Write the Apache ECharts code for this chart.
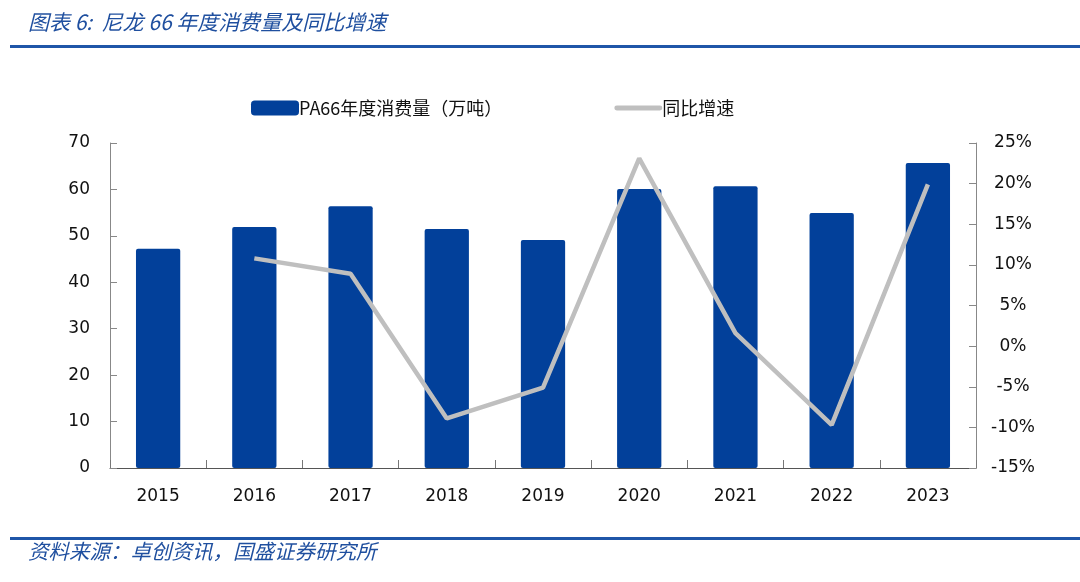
<!DOCTYPE html>
<html><head><meta charset="utf-8">
<script src="https://cdn.jsdelivr.net/npm/echarts@6/dist/echarts.min.js"></script>
<style>html,body{margin:0;padding:0;background:#fff;}#c{width:1080px;height:582px;}</style>
</head><body><div id="c"></div>
<script>
const categories = ['2015','2016','2017','2018','2019','2020','2021','2022','2023'];
const consumption = [47.2, 51.9, 56.4, 51.5, 49.1, 60.1, 60.7, 54.9, 65.7];
const growth = [null, 10.8, 8.9, -8.9, -5.1, 23.1, 1.6, -9.7, 19.9];
const leftTicks = {min: 0, max: 70, interval: 10};
const rightTicks = {min: -15, max: 25, interval: 5};
const titleText = '图表 6:  尼龙 66 年度消费量及同比增速';
const sourceText = '资料来源：卓创资讯，国盛证券研究所';
const barName = 'PA66年度消费量（万吨）';
const lineName = '同比增速';

const chart = echarts.init(document.getElementById('c'), null, {renderer: 'canvas'});
const blue = '#1f4f9f';
const font = '"DejaVu Sans", Verdana, sans-serif';
chart.setOption({
  animation: false,
  backgroundColor: '#fff',
  graphic: [
    {type: 'text', left: 28, top: 12, style: {text: titleText, fill: blue, font: 'italic 21px "Noto Sans CJK SC", sans-serif'}},
    {type: 'rect', shape: {x: 10, y: 45, width: 1070, height: 3}, style: {fill: '#1f56a8'}},
    {type: 'rect', shape: {x: 10, y: 537, width: 1070, height: 3}, style: {fill: '#1f56a8'}},
    {type: 'text', left: 28, top: 541, style: {text: sourceText, fill: blue, font: 'italic 20.5px "Noto Sans CJK SC", sans-serif'}}
  ],
  legend: {
    top: 94, left: 246, itemGap: 112, itemWidth: 48, itemHeight: 15,
    textStyle: {fontSize: 18, color: '#111', fontFamily: '"Noto Sans CJK SC", sans-serif', padding: [0,0,0,-5]},
    data: [
      {name: barName, icon: 'roundRect'},
      {name: lineName, icon: 'path://M2,0 L46,0 A2.5,2.5 0 0 1 46,5 L2,5 A2.5,2.5 0 0 1 2,0 Z', itemStyle: {color: '#bfbfbf'}}
    ]
  },
  grid: {left: 110, right: 104, top: 143, bottom: 114, containLabel: false},
  xAxis: {
    type: 'category', data: categories,
    axisLine: {lineStyle: {color: '#555', width: 1}},
    axisTick: {show: true, inside: true, length: 8, lineStyle: {color: '#777'}},
    axisLabel: {fontSize: 17, color: '#111', fontFamily: font, margin: 20}
  },
  yAxis: [
    {type: 'value', min: leftTicks.min, max: leftTicks.max, interval: leftTicks.interval,
     splitLine: {show: false},
     axisLine: {show: true, lineStyle: {color: '#888'}},
     axisTick: {show: true, inside: true, length: 7, lineStyle: {color: '#888'}},
     axisLabel: {fontSize: 17, color: '#111', fontFamily: font, margin: 20}},
    {type: 'value', min: rightTicks.min, max: rightTicks.max, interval: rightTicks.interval,
     position: 'right',
     splitLine: {show: false},
     axisLine: {show: true, lineStyle: {color: '#888'}},
     axisTick: {show: true, inside: true, length: 7, lineStyle: {color: '#888'}},
     axisLabel: {fontSize: 17, color: '#111', fontFamily: font, margin: 37, align: 'center', formatter: v => v + '%'}}
  ],
  series: [
    {name: barName, type: 'bar', data: consumption, yAxisIndex: 0, barWidth: '46%',
     itemStyle: {color: '#02409a', borderRadius: 2}},
    {name: lineName, type: 'line', data: growth, yAxisIndex: 1, symbol: 'none',
     lineStyle: {color: '#bfbfbf', width: 4.5}, itemStyle: {color: '#bfbfbf'}, connectNulls: false}
  ]
});
</script></body></html>
